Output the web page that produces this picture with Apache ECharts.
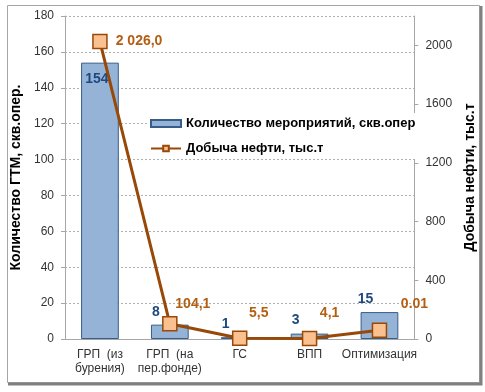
<!DOCTYPE html>
<html><head><meta charset="utf-8">
<script src="https://cdn.jsdelivr.net/npm/echarts@6/dist/echarts.min.js"></script>
<style>html,body{margin:0;padding:0;background:#fff}#c{width:485px;height:392px}</style>
</head><body><div id="c"></div>
<script>
const categories = ['ГРП  (из\nбурения)', 'ГРП  (на\nпер.фонде)', 'ГС', 'ВПП', 'Оптимизация'];
const barName = 'Количество мероприятий, скв.опер';
const lineName = 'Добыча нефти, тыс.т';
const barValues = [154, 8, 1, 3, 15];
const lineValues = [2026, 104.1, 5.5, 4.1, 60];
const lineLabels = ['2 026,0', '104,1', '5,5', '4,1', '0.01'];
const leftTicks = [0, 20, 40, 60, 80, 100, 120, 140, 160, 180];
const rightTicks = [0, 400, 800, 1200, 1600, 2000];

const FONT = 'Liberation Sans, Arial, sans-serif';
const chart = echarts.init(document.getElementById('c'));
const lineOffsets = [[0, 0], [23, 0], [19, -5], [20, -6], [35, -6]];
chart.setOption({
  animation: false,
  textStyle: { fontFamily: FONT },
  grid: { left: 65, right: 64, top: 16, bottom: 53 },
  graphic: [{
    type: 'rect', shape: { x: 7.5, y: 5.5, width: 472, height: 377 },
    style: { fill: 'none', stroke: '#a6a6a6', lineWidth: 1 }, z: -1
  }, {
    type: 'polyline', shape: { points: [[481, 6], [481, 384], [8, 384]] },
    style: { fill: 'none', stroke: '#808080', lineWidth: 3 }, z: -1
  }],
  legend: {
    left: 148, top: 113, orient: 'vertical', itemGap: 12,
    backgroundColor: '#fff', padding: [4, 2, 4, 2],
    itemWidth: 30, itemHeight: 7,
    textStyle: { fontFamily: FONT, fontSize: 13, fontWeight: 'bold', color: '#000' },
    data: [
      { name: barName, icon: 'rect' },
      { name: lineName }
    ]
  },
  xAxis: {
    type: 'category', data: categories,
    axisLine: { lineStyle: { color: '#a6a6a6' } },
    axisTick: { alignWithLabel: false, length: 4, lineStyle: { color: '#a6a6a6' } },
    axisLabel: { color: '#333', fontSize: 12, margin: 9, lineHeight: 14, interval: 0 }
  },
  yAxis: [{
    type: 'value', min: 0, max: 180, interval: 20,
    name: 'Количество ГТМ, скв.опер.', nameLocation: 'middle', nameRotate: 90, nameGap: 41,
    nameTextStyle: { fontFamily: FONT, fontSize: 14, fontWeight: 'bold', color: '#000' },
    axisLine: { show: true, lineStyle: { color: '#a6a6a6' } },
    axisTick: { show: true, length: 4, lineStyle: { color: '#a6a6a6' } },
    axisLabel: { color: '#333', fontSize: 12, margin: 11 },
    splitLine: { lineStyle: { color: '#b0b0b0', type: [2, 2] } }
  }, {
    type: 'value', min: 0, max: 2200, interval: 400,
    name: 'Добыча нефти, тыс.т', nameLocation: 'middle', nameRotate: 90, nameGap: 46,
    nameTextStyle: { fontFamily: FONT, fontSize: 14, fontWeight: 'bold', color: '#000' },
    axisLine: { show: true, lineStyle: { color: '#a6a6a6' } },
    axisTick: { show: true, length: 4, lineStyle: { color: '#a6a6a6' } },
    axisLabel: { color: '#333', fontSize: 12, margin: 11, showMaxLabel: false,
      formatter: v => rightTicks.includes(v) ? String(v) : '' },
    splitLine: { show: false }
  }],
  series: [{
    name: barName, type: 'bar', yAxisIndex: 0, barWidth: '54%',
    data: barValues.map((v, i) => ({
      value: v,
      label: i === 0
        ? { position: 'insideTop', distance: 9, offset: [-3, 0] }
        : { position: 'top', distance: 6, offset: [-14, 0] }
    })),
    itemStyle: { color: '#95b3d7', borderColor: '#385d8a', borderWidth: 1 },
    label: { show: true, color: '#1f497d', fontSize: 14, fontWeight: 'bold', fontFamily: FONT }
  }, {
    name: lineName, type: 'line', yAxisIndex: 1,
    data: lineValues.map((v, i) => ({
      value: v,
      label: i === 0
        ? { position: 'right', distance: 8 }
        : { position: 'top', distance: 5, offset: lineOffsets[i] }
    })),
    symbol: 'rect', symbolSize: 14,
    lineStyle: { color: '#984807', width: 3 },
    itemStyle: { color: '#fac090', borderColor: '#984807', borderWidth: 1.5 },
    label: { show: true, color: '#b35e12', fontSize: 14, fontWeight: 'bold', fontFamily: FONT,
      formatter: p => lineLabels[p.dataIndex] }
  }]
});
</script></body></html>
